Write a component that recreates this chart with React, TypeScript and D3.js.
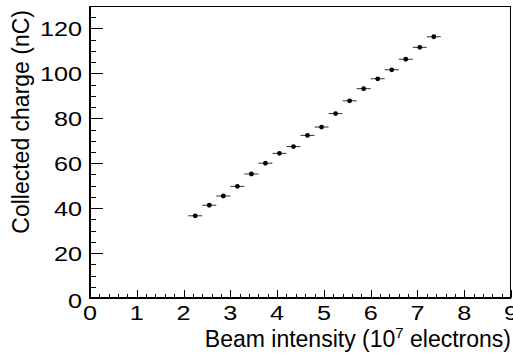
import { useEffect, useRef } from "react";
import * as d3 from "d3";

// beam intensity (10^7 electrons) and collected charge (nC)
const intensity = [2.25, 2.55, 2.85, 3.15, 3.45, 3.75, 4.05, 4.35, 4.65, 4.95, 5.25, 5.55, 5.85, 6.15, 6.45, 6.75, 7.05, 7.35];
const charge = [36.6, 41.3, 45.4, 49.7, 55.2, 60.0, 64.4, 67.4, 72.4, 76.1, 82.1, 87.8, 93.2, 97.6, 101.6, 106.3, 111.6, 116.3];
const intensityErr = [0.15, 0.15, 0.15, 0.15, 0.15, 0.15, 0.15, 0.15, 0.15, 0.15, 0.15, 0.15, 0.15, 0.15, 0.15, 0.15, 0.15, 0.15];

const xTicks = [0, 1, 2, 3, 4, 5, 6, 7, 8, 9];
const yTicks = [0, 20, 40, 60, 80, 100, 120];
const xTitle = "Beam intensity (10";
const xTitleSup = "7";
const xTitleEnd = " electrons)";
const yTitle = "Collected charge (nC)";

export default function App() {
  const svgRef = useRef<SVGSVGElement | null>(null);

  useEffect(() => {
    const svg = d3.select(svgRef.current);
    svg.selectAll("*").remove();
    const width = 513;
    const height = 360;
    const margin = { top: 6, right: 2, bottom: 62, left: 90 };
    const font = "'Liberation Sans', Arial, sans-serif";
    const stretch = 1.2; // tick labels in the original are wide

    const x = d3.scaleLinear().domain([0, 9]).range([margin.left, width - margin.right]);
    const y = d3.scaleLinear().domain([0, 130]).range([height - margin.bottom, margin.top]);
    const y0 = y(0);

    // frame
    svg
      .append("rect")
      .attr("x", margin.left)
      .attr("y", margin.top + 0.5)
      .attr("width", width - margin.right - margin.left - 0.5)
      .attr("height", y0 - margin.top)
      .attr("fill", "none")
      .attr("stroke", "#000")
      .attr("stroke-width", 1);

    // x ticks (major every 1, minor every 0.2)
    const xMinor = d3.range(0, 9.001, 0.2);
    svg
      .append("g")
      .selectAll("line")
      .data(xMinor)
      .join("line")
      .attr("x1", (d) => Math.round(x(d)) + 0.5)
      .attr("x2", (d) => Math.round(x(d)) + 0.5)
      .attr("y1", y0)
      .attr("y2", (d) => (Math.abs(d - Math.round(d)) < 1e-6 ? y0 - 8 : y0 - 4))
      .attr("stroke", "#000");

    // y ticks (major every 20, minor every 5)
    const yMinor = d3.range(0, 130.001, 5);
    svg
      .append("g")
      .selectAll("line")
      .data(yMinor)
      .join("line")
      .attr("y1", (d) => Math.round(y(d)) + 0.5)
      .attr("y2", (d) => Math.round(y(d)) + 0.5)
      .attr("x1", margin.left)
      .attr("x2", (d) => (d % 20 === 0 ? margin.left + 13 : margin.left + 6))
      .attr("stroke", "#000");

    // axis lines
    svg
      .append("line")
      .attr("x1", margin.left)
      .attr("x2", width - margin.right)
      .attr("y1", y0)
      .attr("y2", y0)
      .attr("stroke", "#000")
      .attr("stroke-width", 2);
    svg
      .append("line")
      .attr("x1", margin.left)
      .attr("x2", margin.left)
      .attr("y1", margin.top)
      .attr("y2", y0 + 1)
      .attr("stroke", "#000")
      .attr("stroke-width", 2);

    // tick labels
    svg
      .append("g")
      .selectAll("text")
      .data(xTicks)
      .join("text")
      .attr("transform", (d) => `translate(${x(d)},320) scale(${stretch},1)`)
      .attr("text-anchor", "middle")
      .attr("font-family", font)
      .attr("font-size", 21)
      .text((d) => String(d));

    svg
      .append("g")
      .selectAll("text")
      .data(yTicks)
      .join("text")
      .attr("transform", (d) => `translate(82,${y(d) + (d === 0 ? 10 : 7.5)}) scale(${stretch},1)`)
      .attr("text-anchor", "end")
      .attr("font-family", font)
      .attr("font-size", 21)
      .text((d) => String(d));

    // axis titles
    const xt = svg
      .append("text")
      .attr("x", 511)
      .attr("y", 347)
      .attr("text-anchor", "end")
      .attr("font-family", font)
      .attr("font-size", 23);
    xt.append("tspan").text(xTitle);
    xt.append("tspan").attr("dy", -9).attr("font-size", 15).text(xTitleSup);
    xt.append("tspan").attr("dy", 9).text(xTitleEnd);

    svg
      .append("text")
      .attr("transform", "translate(28.5,10) rotate(-90)")
      .attr("text-anchor", "end")
      .attr("font-family", font)
      .attr("font-size", 23)
      .text(yTitle);

    // error bars
    svg
      .append("g")
      .selectAll("line")
      .data(intensity)
      .join("line")
      .attr("x1", (d, i) => x(d - intensityErr[i]))
      .attr("x2", (d, i) => x(d + intensityErr[i]))
      .attr("y1", (_, i) => y(charge[i]))
      .attr("y2", (_, i) => y(charge[i]))
      .attr("stroke", "#333")
      .attr("stroke-width", 1);

    // markers
    svg
      .append("g")
      .selectAll("circle")
      .data(intensity)
      .join("circle")
      .attr("cx", (d) => x(d))
      .attr("cy", (_, i) => y(charge[i]))
      .attr("r", 2.4)
      .attr("fill", "#000");
  }, []);

  return (
    <svg
      ref={svgRef}
      width={513}
      height={360}
      style={{ position: "absolute", left: 0, top: 0, background: "#fff" }}
    />
  );
}
